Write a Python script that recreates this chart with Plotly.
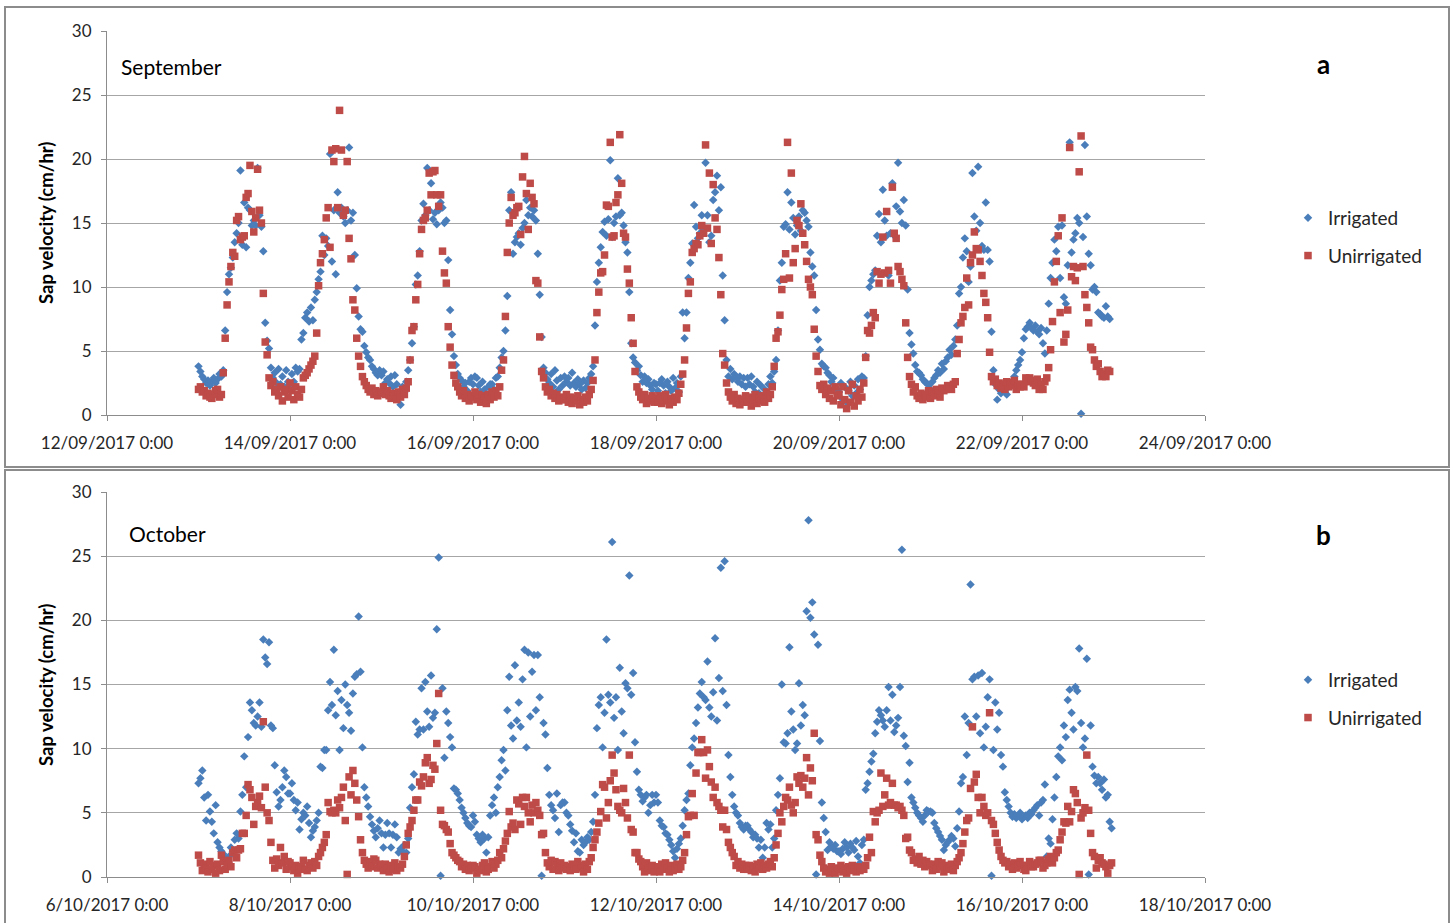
import pandas as pd
import plotly.graph_objects as go

# ---------------- data (half-hourly readings, one row per day) ----------------
sep_days = ["2017-09-13", "2017-09-14", "2017-09-15", "2017-09-16", "2017-09-17",
            "2017-09-18", "2017-09-19", "2017-09-20", "2017-09-21", "2017-09-22"]

sep_irrigated = [
    [3.8, 3.4, 3.0, 2.8, 2.5, 2.7, 2.3, 2.6, 2.9, 2.5, 2.8, 3.2, 3.0, 3.5, 6.6, 9.6, 11.0, 11.5, 12.3, 13.5, 14.2, 15.0, 19.1, 13.3,
     16.6, 13.1, 16.2, 16.0, 14.8, 15.2, 14.8, 19.3, 15.6, 14.7, 12.8, 7.2, 5.8, 5.2, 3.7, 2.9, 3.3, 2.5, 3.6, 2.4, 3.0, 2.2, 3.5, 2.6],
    [2.4, 3.2, 2.6, 3.7, 3.4, 3.6, 5.9, 6.4, 7.6, 8.0, 7.3, 8.4, 7.4, 9.0, 9.6, 10.6, 11.2, 14.0, 12.5, 13.8, 13.2, 20.4, 12.0, 16.0,
     11.0, 17.4, 15.8, 16.2, 15.5, 15.0, 16.0, 20.9, 15.2, 15.8, 12.5, 9.9, 7.7, 6.7, 6.5, 5.4, 4.9, 4.5, 4.3, 3.8, 3.6, 3.3, 3.1, 3.5],
    [3.1, 3.4, 2.5, 2.8, 2.5, 3.0, 2.2, 3.1, 2.4, 1.6, 0.8, 2.2, 1.8, 2.6, 3.5, 4.3, 5.6, 6.9, 10.2, 10.9, 12.8, 15.2, 16.5, 15.6,
     19.3, 16.0, 18.1, 15.3, 15.8, 14.9, 16.0, 16.6, 16.2, 15.0, 15.2, 12.1, 8.2, 6.3, 4.6, 3.9, 3.2, 2.9, 2.7, 2.2, 2.5, 1.9, 2.6, 2.9],
    [2.4, 3.0, 2.9, 2.3, 1.8, 2.6, 2.0, 1.6, 2.2, 2.4, 2.4, 2.0, 2.9, 3.0, 3.7, 4.5, 5.0, 6.6, 9.3, 16.0, 17.4, 12.6, 13.5, 13.9,
     14.2, 13.3, 14.6, 15.0, 16.8, 15.6, 16.2, 15.5, 16.0, 15.2, 12.6, 9.4, 6.1, 3.7, 3.3, 2.8, 2.5, 3.2, 2.2, 3.5, 2.7, 2.0, 2.9, 2.3],
    [3.0, 2.6, 2.9, 2.3, 3.3, 2.5, 2.2, 2.8, 2.4, 2.0, 2.7, 2.1, 2.5, 2.9, 3.2, 3.8, 7.0, 10.4, 11.9, 13.1, 14.3, 15.1, 14.0, 15.3,
     19.9, 13.9, 15.0, 15.5, 18.5, 15.6, 15.8, 14.8, 13.5, 12.7, 9.6, 5.6, 4.5, 4.1, 3.5, 3.8, 3.1, 2.6, 3.0, 2.5, 2.8, 2.3, 2.0, 2.5],
    [2.4, 1.9, 2.5, 2.8, 2.3, 1.7, 2.6, 2.2, 1.9, 2.9, 2.1, 2.5, 1.8, 3.0, 8.0, 6.0, 8.0, 10.7, 11.9, 13.4, 16.4, 14.7, 13.8, 14.2,
     15.6, 14.5, 19.7, 15.6, 13.5, 14.0, 16.8, 17.4, 18.7, 16.0, 17.8, 10.9, 7.4, 4.3, 3.0, 3.6, 2.8, 3.2, 3.0, 2.6, 3.0, 2.4, 2.9, 2.2],
    [2.9, 2.4, 3.0, 2.2, 1.8, 2.6, 1.7, 2.3, 1.4, 2.0, 1.6, 2.4, 3.0, 2.5, 3.4, 4.3, 6.6, 10.5, 11.9, 14.7, 14.9, 17.4, 14.5, 16.6,
     15.4, 14.1, 14.8, 15.5, 14.4, 16.0, 15.8, 15.2, 14.7, 12.7, 11.6, 10.9, 8.2, 5.9, 5.1, 4.0, 3.8, 3.7, 3.3, 3.1, 2.6, 2.9, 2.2, 2.0],
    [1.8, 2.5, 1.2, 2.2, 1.0, 1.9, 2.6, 1.5, 2.3, 1.7, 2.8, 2.0, 3.0, 2.9, 4.6, 7.8, 10.0, 10.5, 11.0, 11.3, 14.0, 15.7, 13.5, 17.6,
     15.2, 14.0, 10.9, 14.2, 18.1, 14.0, 16.3, 19.7, 15.9, 15.0, 16.8, 14.8, 9.8, 6.4, 5.5, 4.8, 3.9, 3.4, 3.3, 3.1, 2.8, 2.6, 2.5, 2.3],
    [2.0, 2.6, 2.9, 3.1, 3.5, 3.3, 4.0, 3.6, 4.2, 4.5, 5.1, 4.7, 5.4, 5.9, 7.0, 9.5, 10.0, 12.3, 13.8, 12.8, 10.4, 11.6, 18.9, 15.5,
     14.4, 19.4, 15.0, 13.2, 12.9, 16.6, 12.9, 12.0, 6.5, 3.5, 2.4, 1.2, 2.0, 1.7, 2.0, 1.8, 1.6, 2.2, 2.5, 2.6, 3.0, 3.5, 3.9, 4.3],
    [4.9, 6.0, 6.7, 6.9, 7.2, 6.8, 6.6, 7.0, 6.5, 6.3, 6.8, 5.6, 4.8, 6.6, 8.7, 10.7, 11.9, 13.7, 12.8, 14.7, 10.7, 14.8, 9.2, 8.7,
     11.7, 21.3, 12.7, 13.7, 14.2, 15.4, 15.0, 0.1, 13.9, 21.1, 15.5, 12.6, 11.7, 9.8, 10.0, 9.6, 8.0, 7.9, 7.7, 7.6, 8.5, 7.7, 7.5],
]

sep_unirrigated = [
    [2.0, 2.2, 1.8, 1.9, 1.5, 1.7, 1.4, 1.3, 1.6, 1.9, 2.0, 1.4, 1.6, 3.3, 6.0, 8.6, 10.4, 11.6, 12.7, 12.4, 15.2, 15.5, 13.7, 13.9,
     14.0, 17.0, 17.3, 19.5, 15.9, 14.3, 15.4, 19.2, 16.0, 15.0, 9.5, 5.7, 4.7, 2.9, 2.3, 2.6, 1.8, 2.0, 1.5, 2.2, 1.1, 1.8, 2.0, 1.4],
    [2.5, 1.9, 1.2, 2.2, 1.6, 1.4, 2.0, 2.9, 3.1, 3.3, 3.6, 3.9, 4.2, 4.6, 6.4, 10.1, 11.9, 12.6, 13.7, 15.4, 16.2, 13.1, 20.7, 19.8,
     20.8, 16.2, 23.8, 20.7, 15.6, 16.0, 19.8, 13.8, 12.2, 9.0, 8.2, 6.0, 4.6, 3.8, 3.0, 2.6, 2.3, 2.0, 1.8, 2.1, 1.6, 1.9, 1.5, 1.7],
    [1.8, 2.2, 1.6, 1.9, 1.5, 1.3, 1.7, 1.5, 1.2, 1.8, 1.4, 2.0, 1.6, 2.1, 2.6, 4.3, 6.6, 6.9, 9.0, 10.2, 12.6, 14.5, 15.2, 15.4,
     16.0, 18.9, 17.2, 19.0, 19.1, 17.2, 16.3, 17.2, 12.8, 11.1, 10.3, 6.9, 5.3, 3.9, 3.1, 2.5, 2.2, 1.8, 1.5, 1.9, 1.3, 1.6, 1.1, 1.5],
    [1.4, 1.8, 1.2, 1.6, 1.0, 1.5, 1.3, 0.9, 1.6, 1.2, 1.8, 1.4, 1.9, 1.5, 2.2, 3.5, 4.3, 7.7, 12.7, 15.0, 17.0, 15.6, 15.8, 16.2,
     16.3, 14.1, 18.6, 20.2, 17.3, 14.5, 18.1, 17.0, 16.5, 10.5, 10.3, 6.1, 3.4, 2.9, 2.2, 1.8, 2.0, 1.5, 1.7, 1.3, 1.6, 1.1, 1.4, 1.2],
    [1.2, 1.6, 1.0, 1.4, 0.9, 1.3, 1.1, 1.5, 0.8, 1.2, 1.0, 1.4, 1.1, 1.6, 2.0, 2.7, 4.3, 8.0, 9.6, 11.1, 11.2, 12.5, 16.4, 16.3,
     21.3, 13.9, 14.0, 16.6, 17.2, 21.9, 18.1, 14.2, 13.9, 11.4, 10.3, 7.6, 5.6, 3.4, 2.2, 1.8, 1.4, 1.2, 1.6, 0.9, 1.3, 1.1, 1.5, 1.0],
    [1.3, 1.0, 1.5, 0.9, 1.2, 1.6, 1.1, 0.8, 1.3, 1.0, 1.4, 1.2, 1.7, 2.4, 3.2, 4.3, 6.8, 9.5, 10.4, 12.7, 13.0, 13.4, 13.3, 14.0,
     14.8, 14.2, 21.1, 14.6, 18.9, 13.4, 18.0, 15.4, 14.5, 12.3, 9.4, 4.8, 3.9, 2.5, 1.8, 1.4, 1.1, 1.6, 0.9, 1.3, 0.8, 1.2, 1.0, 1.5],
    [1.0, 1.4, 0.7, 1.2, 1.6, 0.9, 1.3, 1.1, 1.5, 1.0, 1.8, 1.3, 1.6, 2.2, 3.8, 6.0, 6.5, 7.8, 9.8, 10.6, 12.6, 21.3, 10.7, 18.9,
     11.9, 13.0, 15.2, 14.8, 16.5, 14.2, 13.3, 12.0, 10.6, 10.0, 9.4, 6.7, 4.6, 3.4, 2.3, 2.0, 2.4, 1.6, 2.1, 1.3, 1.9, 1.1, 2.2, 1.5],
    [1.6, 0.8, 2.2, 1.2, 0.5, 1.9, 1.0, 2.4, 0.7, 1.5, 1.1, 2.0, 1.4, 2.5, 4.5, 6.6, 6.4, 7.0, 8.0, 7.6, 11.2, 10.3, 11.0, 13.9,
     11.1, 15.9, 11.3, 10.3, 17.8, 14.2, 13.8, 11.6, 11.2, 10.6, 10.1, 7.2, 4.5, 3.0, 2.4, 1.8, 2.2, 1.5, 1.3, 1.7, 1.2, 1.6, 1.4, 1.9],
    [1.3, 1.8, 1.5, 2.0, 1.7, 1.4, 2.1, 1.9, 2.0, 2.3, 2.2, 2.0, 2.4, 2.6, 4.8, 5.9, 7.2, 7.7, 8.4, 10.7, 8.6, 11.9, 12.5, 14.3,
     13.0, 12.9, 12.0, 10.9, 9.5, 8.8, 7.6, 4.9, 3.0, 2.6, 2.8, 2.3, 2.5, 2.1, 2.4, 2.0, 2.6, 2.2, 2.5, 2.3, 2.7, 2.0, 2.4, 2.2],
    [2.4, 2.2, 2.9, 2.6, 2.9, 2.7, 2.5, 2.3, 2.8, 2.0, 2.4, 2.0, 2.6, 2.9, 3.7, 5.1, 7.3, 10.4, 12.0, 14.0, 8.0, 15.4, 5.7, 6.3,
     8.2, 20.9, 10.8, 11.6, 10.5, 11.5, 19.0, 21.8, 11.6, 9.4, 8.4, 7.2, 5.3, 5.1, 4.3, 3.8, 4.0, 3.4, 3.0, 3.2, 3.0, 3.5, 3.4],
]

oct_days = ["2017-10-07", "2017-10-08", "2017-10-09", "2017-10-10", "2017-10-11",
            "2017-10-12", "2017-10-13", "2017-10-14", "2017-10-15", "2017-10-16"]

oct_irrigated = [
    [7.3, 7.7, 8.3, 6.2, 4.4, 6.4, 5.1, 4.3, 3.4, 5.6, 2.7, 2.3, 2.0, 1.8, 1.5, 1.2, 1.6, 2.3, 2.0, 2.9, 3.4, 3.0, 5.1, 6.4,
     9.4, 7.0, 10.9, 13.6, 13.0, 12.0, 11.8, 12.5, 13.6, 11.7, 18.5, 17.1, 16.6, 18.3, 11.8, 11.6, 8.7, 6.6, 5.5, 6.0, 7.0, 8.3, 7.8, 6.5],
    [6.5, 7.3, 6.0, 5.2, 5.8, 3.7, 4.5, 5.0, 4.8, 5.5, 4.2, 3.1, 3.6, 3.9, 4.4, 5.0, 8.6, 8.5, 9.9, 9.9, 13.0, 15.2, 13.4, 17.7,
     12.6, 14.5, 9.9, 13.8, 11.6, 15.0, 13.4, 12.8, 11.4, 14.3, 15.6, 15.8, 20.3, 16.0, 10.1, 7.0, 6.2, 5.5, 4.7, 4.1, 3.6, 3.1, 3.8, 4.4],
    [3.4, 2.3, 3.3, 4.2, 3.4, 2.3, 3.3, 4.1, 3.1, 1.9, 2.2, 2.0, 2.5, 1.9, 3.0, 5.4, 7.0, 8.0, 12.1, 11.1, 11.5, 14.7, 11.5, 15.2,
     12.9, 11.7, 15.7, 12.4, 12.8, 19.3, 24.9, 0.1, 14.7, 9.3, 12.9, 12.0, 10.9, 10.1, 6.9, 6.8, 6.5, 6.0, 5.4, 5.0, 4.6, 4.2, 4.0, 3.9],
    [4.8, 4.3, 3.3, 3.0, 2.7, 3.3, 3.0, 1.9, 3.1, 4.8, 5.6, 6.2, 5.0, 7.0, 7.8, 9.1, 9.9, 8.3, 13.0, 15.6, 11.8, 10.8, 16.5, 12.2,
     13.6, 11.7, 15.4, 17.7, 10.1, 17.5, 12.5, 16.0, 17.3, 13.0, 17.3, 14.0, 0.1, 12.0, 11.1, 8.5, 6.4, 5.6, 5.2, 4.6, 6.5, 3.5, 5.6, 5.8],
    [5.8, 5.0, 4.8, 4.1, 3.6, 2.7, 3.4, 2.0, 1.9, 2.9, 2.5, 2.7, 3.1, 2.9, 3.5, 4.3, 6.4, 11.6, 13.4, 14.0, 10.1, 12.8, 18.5, 14.2,
     13.6, 26.1, 12.4, 14.0, 9.9, 16.3, 12.9, 11.2, 15.1, 14.7, 23.5, 14.2, 15.9, 10.5, 8.2, 6.8, 6.4, 5.9, 6.2, 6.4, 5.0, 5.6, 6.4, 5.8],
    [6.4, 5.8, 4.4, 4.0, 3.9, 3.4, 3.3, 2.9, 2.5, 2.0, 1.5, 2.2, 2.6, 3.0, 4.0, 5.2, 6.0, 6.5, 8.7, 10.1, 10.8, 12.0, 13.2, 14.3,
     15.2, 14.0, 13.8, 16.8, 13.2, 12.5, 14.4, 18.6, 12.2, 15.5, 24.1, 14.5, 24.6, 13.4, 9.5, 7.8, 6.4, 5.5, 5.0, 4.8, 4.2, 3.9, 3.7, 4.0],
    [4.0, 3.7, 3.5, 3.1, 3.3, 3.0, 2.3, 2.9, 1.5, 2.3, 4.2, 3.7, 4.1, 2.3, 3.0, 5.2, 6.4, 7.7, 15.0, 10.5, 10.4, 11.2, 17.9, 12.9,
     11.5, 9.9, 10.4, 15.1, 11.8, 13.4, 12.6, 20.7, 27.8, 20.2, 21.4, 18.9, 0.2, 18.1, 10.6, 5.8, 4.6, 3.5, 2.1, 2.7, 2.4, 2.2, 2.5, 2.0],
    [2.0, 1.8, 2.2, 2.7, 2.3, 1.9, 2.6, 2.3, 2.1, 2.8, 1.6, 1.1, 2.5, 2.9, 6.8, 7.3, 8.2, 9.0, 9.6, 11.2, 12.1, 13.0, 12.6, 12.2,
     11.7, 13.0, 14.8, 12.2, 14.2, 11.3, 11.8, 12.4, 14.8, 25.5, 11.0, 10.2, 7.4, 8.9, 6.2, 5.8, 5.4, 5.0, 4.8, 4.6, 4.3, 4.8, 5.2, 5.1],
    [5.1, 5.0, 4.2, 3.8, 3.5, 3.2, 2.9, 2.1, 2.5, 2.7, 2.9, 3.2, 3.0, 2.4, 3.8, 5.1, 7.3, 7.8, 12.5, 9.5, 12.0, 22.8, 15.4, 15.6,
     12.5, 15.7, 11.2, 15.9, 10.1, 11.7, 14.0, 15.4, 0.1, 9.9, 13.6, 11.5, 12.8, 9.5, 8.6, 6.6, 6.0, 5.5, 5.0, 4.7, 4.9, 4.6, 4.8, 5.0],
    [4.5, 4.7, 4.8, 4.6, 5.0, 4.9, 5.2, 5.4, 5.6, 4.8, 5.8, 6.0, 7.2, 1.6, 3.0, 2.6, 4.5, 6.2, 7.8, 9.4, 10.1, 9.1, 11.8, 10.9,
     13.8, 14.6, 12.8, 11.5, 14.8, 14.5, 17.8, 12.0, 10.1, 10.8, 17.0, 0.2, 11.8, 8.6, 7.9, 7.3, 7.8, 7.3, 6.8, 7.6, 6.2, 6.4, 4.3, 3.8],
]

oct_unirrigated = [
    [1.7, 1.1, 0.5, 1.0, 0.7, 0.4, 1.2, 0.6, 0.9, 0.3, 1.0, 0.5, 1.7, 1.2, 0.6, 0.9, 1.3, 0.8, 1.9, 2.1, 1.5, 2.1, 2.2, 3.4,
     3.4, 4.8, 7.2, 6.8, 6.2, 4.1, 5.5, 5.8, 6.3, 5.4, 12.1, 7.0, 5.0, 4.4, 2.7, 1.3, 0.7, 1.4, 0.9, 2.3, 1.1, 1.6, 0.6, 1.2],
    [1.1, 0.8, 0.5, 0.9, 0.3, 0.6, 0.8, 1.3, 0.6, 0.5, 0.9, 1.1, 0.7, 1.2, 0.9, 1.6, 1.9, 2.3, 2.7, 3.3, 5.8, 5.1, 5.0, 5.2,
     5.0, 6.0, 5.4, 6.2, 7.0, 4.4, 0.2, 7.8, 6.4, 8.3, 7.3, 6.0, 4.7, 2.9, 1.9, 1.3, 1.0, 0.7, 1.2, 0.8, 1.4, 1.3, 0.7, 1.0],
    [0.8, 0.5, 1.0, 0.7, 0.4, 0.9, 0.6, 1.1, 0.5, 0.8, 0.7, 1.0, 1.6, 2.5, 3.4, 3.9, 4.4, 5.2, 6.0, 6.0, 7.4, 7.1, 7.8, 8.9,
     9.3, 7.3, 7.6, 8.7, 8.4, 10.4, 14.3, 5.2, 4.1, 4.0, 3.7, 3.5, 2.6, 1.9, 1.7, 1.5, 1.3, 1.2, 0.8, 1.0, 0.6, 0.9, 0.5, 0.7],
    [0.9, 0.8, 0.3, 0.6, 0.5, 0.9, 1.1, 0.4, 0.6, 0.8, 1.2, 0.7, 1.0, 1.3, 1.9, 1.5, 2.2, 2.8, 3.4, 5.1, 3.9, 4.2, 3.7, 6.0,
     5.7, 4.1, 6.2, 5.5, 6.2, 5.0, 4.3, 5.6, 5.0, 5.8, 5.2, 4.8, 3.3, 3.4, 1.9, 1.1, 0.8, 1.3, 0.6, 1.2, 0.9, 0.5, 1.1, 0.7],
    [0.9, 0.6, 0.8, 0.5, 1.0, 0.8, 0.6, 1.2, 0.9, 0.7, 0.4, 1.0, 0.6, 1.2, 1.5, 2.3, 2.9, 3.5, 4.2, 5.1, 7.2, 7.0, 4.6, 5.8,
     7.5, 9.5, 8.1, 6.8, 5.5, 5.2, 5.0, 6.9, 5.8, 4.6, 9.5, 3.7, 3.5, 1.9, 1.9, 1.4, 1.2, 0.8, 0.4, 1.1, 0.7, 0.5, 0.9, 0.4],
    [0.5, 0.8, 0.4, 1.0, 0.6, 1.1, 0.7, 0.4, 0.9, 0.5, 0.8, 1.0, 0.6, 0.8, 1.3, 1.9, 3.3, 4.7, 4.8, 6.5, 4.8, 8.1, 9.7, 9.7,
     10.7, 9.7, 7.7, 9.9, 8.6, 7.4, 6.2, 7.0, 5.8, 5.5, 5.2, 3.9, 5.2, 3.7, 2.7, 2.3, 1.9, 1.6, 0.9, 1.2, 0.7, 1.0, 0.6, 0.9],
    [0.6, 0.9, 0.5, 0.8, 0.4, 1.0, 0.7, 1.1, 0.6, 0.9, 0.7, 1.0, 1.2, 0.8, 1.5, 2.5, 3.4, 5.0, 4.3, 5.5, 6.2, 6.0, 7.0, 5.6,
     5.0, 5.8, 7.8, 7.3, 7.9, 7.0, 7.7, 9.3, 6.4, 8.5, 7.5, 11.2, 3.3, 2.9, 1.7, 1.2, 0.7, 0.4, 0.6, 0.3, 0.8, 0.5, 0.3, 0.7],
    [0.6, 0.9, 0.4, 0.7, 0.3, 0.8, 0.5, 0.9, 0.6, 0.4, 0.8, 0.5, 0.7, 0.6, 0.9, 1.5, 3.1, 1.9, 5.1, 4.3, 5.0, 5.2, 8.1, 5.5,
     6.4, 7.7, 5.6, 5.8, 7.3, 5.6, 5.6, 5.4, 5.5, 5.2, 4.8, 3.0, 3.1, 2.1, 1.9, 1.3, 1.4, 1.1, 1.6, 1.0, 1.3, 0.8, 1.2, 1.0],
    [0.9, 0.5, 1.0, 0.6, 1.2, 0.8, 1.1, 0.4, 0.9, 0.6, 0.7, 1.0, 0.5, 0.9, 1.2, 1.5, 1.9, 2.6, 3.5, 4.4, 4.6, 6.9, 11.7, 7.4,
     8.0, 6.2, 5.0, 6.2, 5.5, 4.8, 5.0, 12.8, 4.4, 4.1, 3.4, 2.7, 2.1, 1.6, 1.3, 1.1, 1.2, 0.8, 1.0, 0.6, 1.1, 0.7, 0.9, 1.2],
    [0.9, 0.6, 0.5, 0.9, 1.2, 0.8, 0.8, 1.0, 1.1, 1.3, 1.3, 0.7, 0.9, 1.1, 1.4, 1.6, 1.1, 1.5, 1.9, 2.1, 2.9, 3.5, 4.3, 4.2,
     5.5, 4.3, 5.1, 6.8, 6.5, 5.8, 0.2, 4.6, 5.0, 5.4, 9.5, 5.2, 3.4, 1.9, 1.6, 0.7, 1.3, 1.5, 1.1, 1.0, 0.8, 0.3, 0.9, 1.1],
]

series_names = ["Irrigated", "Unirrigated"]
y_ticks = [0, 5, 10, 15, 20, 25, 30]
panel_titles = ["September", "October"]
panel_letters = ["a", "b"]
y_title = "Sap velocity (cm/hr)"

# ---------------- helpers ----------------
W, H = 1453, 923
BLUE = "#4A7EBB"
RED = "#BE4B48"


def expand(days, rows):
    xs, ys = [], []
    for d, row in zip(days, rows):
        xs.extend(pd.date_range(d, periods=len(row), freq="30min"))
        ys.extend(row)
    return xs, ys


def px(x):
    return x / W


def py(y):
    return 1 - y / H


fig = go.Figure()

panels = [
    dict(days=sep_days, irr=sep_irrigated, unirr=sep_unirrigated, xa="x", ya="y", legend="legend"),
    dict(days=oct_days, irr=oct_irrigated, unirr=oct_unirrigated, xa="x2", ya="y2", legend="legend2"),
]

for p in panels:
    xi, yi = expand(p["days"], p["irr"])
    xu, yu = expand(p["days"], p["unirr"])
    fig.add_trace(go.Scatter(
        x=xi, y=yi, mode="markers", name=series_names[0], xaxis=p["xa"], yaxis=p["ya"],
        legend=p["legend"], legendgroup="irr" + p["xa"], cliponaxis=False,
        marker=dict(symbol="diamond", size=6.5, color=BLUE, line=dict(width=0))))
    fig.add_trace(go.Scatter(
        x=xu, y=yu, mode="markers", name=series_names[1], xaxis=p["xa"], yaxis=p["ya"],
        legend=p["legend"], legendgroup="un" + p["xa"], cliponaxis=False,
        marker=dict(symbol="square", size=7.5, color=RED, line=dict(width=0))))

tick_font = dict(family="Lato", size=17, color="#262626")
axis_common = dict(
    showline=True, linecolor="#8C8C8C", linewidth=1, ticks="outside", ticklen=5,
    tickcolor="#8C8C8C", tickfont=tick_font, zeroline=False, automargin=False,
)
xdom = [px(107), px(1205)]

legend_common = dict(xref="container", yref="container", xanchor="left", yanchor="middle",
                     font=dict(family="Lato", size=19, color="#262626"), bgcolor="rgba(0,0,0,0)",
                     tracegroupgap=10, itemwidth=30)

fig.update_layout(
    width=W, height=H,
    margin=dict(l=0, r=0, t=0, b=0, autoexpand=False),
    paper_bgcolor="white", plot_bgcolor="white",
    showlegend=True,
    xaxis=dict(domain=xdom, anchor="y", type="date",
               range=["2017-09-12", "2017-09-24"], tick0="2017-09-12", dtick=2 * 86400000,
               tickformat="%-d/%m/%Y %-H:%M", showgrid=False, ticklabelstandoff=8, **axis_common),
    yaxis=dict(domain=[py(415), py(31)], anchor="x", range=[0, 30], tickvals=y_ticks,
               showgrid=True, gridcolor="#A6A6A6", gridwidth=1, ticklabelstandoff=6, **axis_common),
    xaxis2=dict(domain=xdom, anchor="y2", type="date",
                range=["2017-10-06", "2017-10-18"], tick0="2017-10-06", dtick=2 * 86400000,
                tickformat="%-d/%m/%Y %-H:%M", showgrid=False, ticklabelstandoff=8, **axis_common),
    yaxis2=dict(domain=[py(877), py(492)], anchor="x2", range=[0, 30], tickvals=y_ticks,
                showgrid=True, gridcolor="#A6A6A6", gridwidth=1, ticklabelstandoff=6, **axis_common),
    legend=dict(x=px(1288), y=py(237), **legend_common),
    legend2=dict(x=px(1288), y=py(699), **legend_common),
)

# panel frames
fig.add_shape(type="rect", xref="paper", yref="paper", x0=px(5), x1=px(1449), y0=py(467), y1=py(7),
              line=dict(color="#8C8C8C", width=2), layer="below")
fig.add_shape(type="rect", xref="paper", yref="paper", x0=px(5), x1=px(1449), y0=py(935), y1=py(470),
              line=dict(color="#8C8C8C", width=2), layer="below")

# annotations
for title, letter, ty, ly, yt in [(panel_titles[0], panel_letters[0], 66, 64, 223),
                                  (panel_titles[1], panel_letters[1], 533, 535, 685)]:
    tx = 119 if letter == "a" else 127
    fig.add_annotation(text=title, xref="paper", yref="paper", x=px(tx), y=py(ty),
                       xanchor="left", yanchor="middle", showarrow=False,
                       font=dict(family="Lato", size=21, color="#000000"))
    fig.add_annotation(text="<b>%s</b>" % letter, xref="paper", yref="paper", x=px(1323), y=py(ly),
                       xanchor="center", yanchor="middle", showarrow=False,
                       font=dict(family="Lato", size=26, color="#000000"))
    fig.add_annotation(text="<b>%s</b>" % y_title, xref="paper", yref="paper", x=px(46), y=py(yt),
                       xanchor="center", yanchor="middle", showarrow=False, textangle=-90,
                       font=dict(family="Lato", size=18.5, color="#000000"))

fig.write_html("out.html")
